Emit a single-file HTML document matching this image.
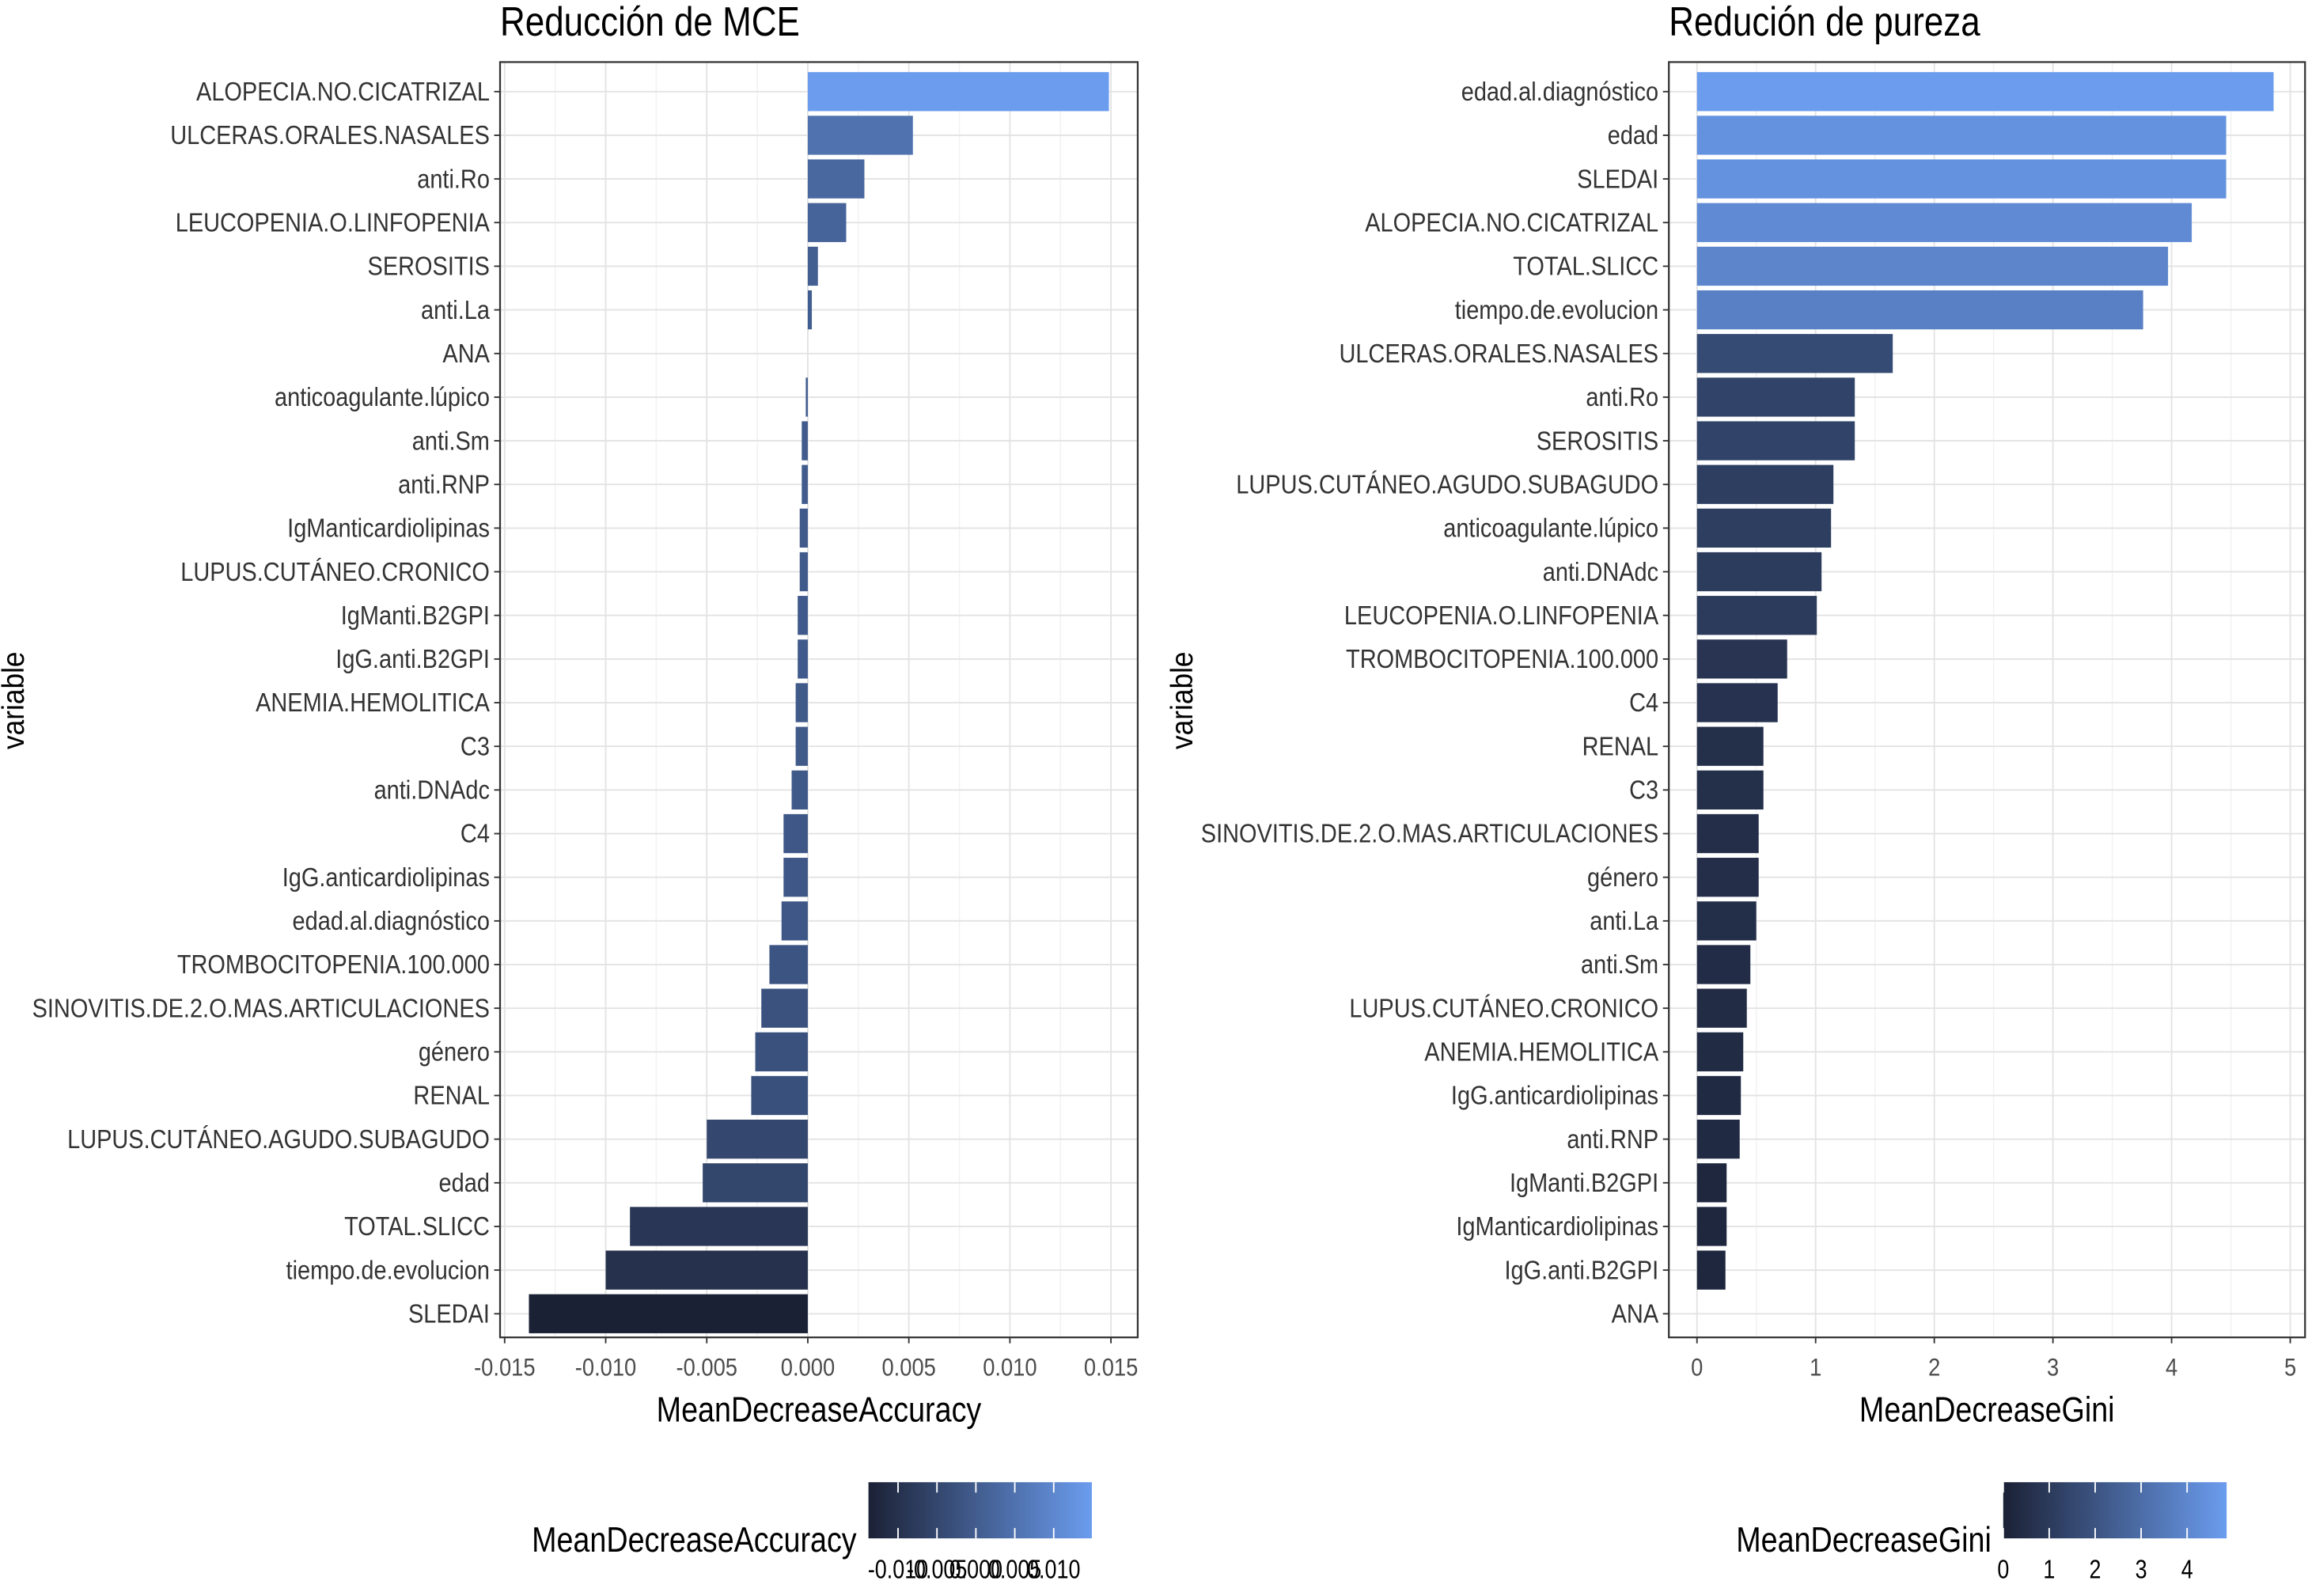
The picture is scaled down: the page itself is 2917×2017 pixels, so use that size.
<!DOCTYPE html>
<html><head><meta charset="utf-8"><style>
html,body{margin:0;padding:0;background:#fff}
svg{display:block}
text{font-family:"Liberation Sans",sans-serif}
</style></head><body>
<svg id="s" width="2917" height="2017" viewBox="0 0 1560 1080" preserveAspectRatio="none" xmlns="http://www.w3.org/2000/svg">
<defs>
<linearGradient id="gL" x1="0" x2="1" y1="0" y2="0"><stop offset="0" stop-color="#1b2135"/><stop offset="1" stop-color="#6b9cee"/></linearGradient>
<linearGradient id="gR" x1="0" x2="1" y1="0" y2="0"><stop offset="0" stop-color="#1b2135"/><stop offset="1" stop-color="#6b9cee"/></linearGradient>
</defs>
</svg>
<script>
const leftCats=["ALOPECIA.NO.CICATRIZAL","ULCERAS.ORALES.NASALES","anti.Ro","LEUCOPENIA.O.LINFOPENIA","SEROSITIS","anti.La","ANA","anticoagulante.lúpico","anti.Sm","anti.RNP","IgManticardiolipinas","LUPUS.CUTÁNEO.CRONICO","IgManti.B2GPI","IgG.anti.B2GPI","ANEMIA.HEMOLITICA","C3","anti.DNAdc","C4","IgG.anticardiolipinas","edad.al.diagnóstico","TROMBOCITOPENIA.100.000","SINOVITIS.DE.2.O.MAS.ARTICULACIONES","género","RENAL","LUPUS.CUTÁNEO.AGUDO.SUBAGUDO","edad","TOTAL.SLICC","tiempo.de.evolucion","SLEDAI"];
const leftVals=[0.0149,0.0052,0.0028,0.0019,0.0005,0.0002,0,-0.0001,-0.0003,-0.0003,-0.0004,-0.0004,-0.0005,-0.0005,-0.0006,-0.0006,-0.0008,-0.0012,-0.0012,-0.0013,-0.0019,-0.0023,-0.0026,-0.0028,-0.0050,-0.0052,-0.0088,-0.0100,-0.0138];
const leftTicks=[-0.015,-0.010,-0.005,0,0.005,0.010,0.015];
const leftTickLabels=["-0.015","-0.010","-0.005","0.000","0.005","0.010","0.015"];
const leftLegTicks=[-0.01,-0.005,0,0.005,0.01];
const leftLegLabels=["-0.010","-0.005","0.000","0.005","0.010"];
const rightCats=["edad.al.diagnóstico","edad","SLEDAI","ALOPECIA.NO.CICATRIZAL","TOTAL.SLICC","tiempo.de.evolucion","ULCERAS.ORALES.NASALES","anti.Ro","SEROSITIS","LUPUS.CUTÁNEO.AGUDO.SUBAGUDO","anticoagulante.lúpico","anti.DNAdc","LEUCOPENIA.O.LINFOPENIA","TROMBOCITOPENIA.100.000","C4","RENAL","C3","SINOVITIS.DE.2.O.MAS.ARTICULACIONES","género","anti.La","anti.Sm","LUPUS.CUTÁNEO.CRONICO","ANEMIA.HEMOLITICA","IgG.anticardiolipinas","anti.RNP","IgManti.B2GPI","IgManticardiolipinas","IgG.anti.B2GPI","ANA"];
const rightVals=[4.86,4.46,4.46,4.17,3.97,3.76,1.65,1.33,1.33,1.15,1.13,1.05,1.01,0.76,0.68,0.56,0.56,0.52,0.52,0.50,0.45,0.42,0.39,0.37,0.36,0.25,0.25,0.24,0];
const rightTicks=[0,1,2,3,4,5];
const rightTickLabels=["0","1","2","3","4","5"];
const rightLegTicks=[0,1,2,3,4];
const rightLegLabels=["0","1","2","3","4"];

const NS="http://www.w3.org/2000/svg";
const svg=document.getElementById('s');
function el(tag,attrs,parent){const e=document.createElementNS(NS,tag);for(const k in attrs)e.setAttribute(k,attrs[k]);(parent||svg).appendChild(e);return e;}
function txt(x,y,s,size,anchor,fill,rot,parent,sx){
  const t=el('text',{transform:`translate(${x},${y})`+(rot?` rotate(${rot})`:'')+` scale(${sx||0.82},1)`,'font-size':size,'text-anchor':anchor,fill:fill},parent);
  t.textContent=s;return t;
}
const c0=[27,33,53],c1=[107,156,238];
function col(v,mn,mx){const f=(v-mn)/(mx-mn);return 'rgb('+c0.map((c,i)=>Math.round(c+(c1[i]-c)*f)).join(',')+')';}

function panel(o){
  const g=el('g',{});
  
  
  const {x0,x1,y0,y1}=o.box;
  const xs=v=>o.zx+(v-o.t0)*o.ppu;
  const n=o.cats.length, step=(y1-y0-36)/(n-1), yc=i=>y0+20+i*step;
  el('rect',{x:x0,y:y0,width:x1-x0,height:y1-y0,fill:'#fff'},g);
  for(let i=0;i<o.ticks.length-1;i++){const m=(o.ticks[i]+o.ticks[i+1])/2;el('line',{x1:xs(m),x2:xs(m),y1:y0,y2:y1,stroke:'#f2f2f2','stroke-width':0.8},g);}
  o.ticks.forEach(t=>el('line',{x1:xs(t),x2:xs(t),y1:y0,y2:y1,stroke:'#e3e3e3','stroke-width':1},g));
  o.cats.forEach((c,i)=>el('line',{x1:x0,x2:x1,y1:yc(i),y2:yc(i),stroke:'#e3e3e3','stroke-width':1},g));
  const mn=Math.min(...o.vals),mx=Math.max(...o.vals);
  o.vals.forEach((v,i)=>{
    const a=xs(0),b=xs(v);
    const r=el('rect',{x:Math.min(a,b),y:yc(i)-13.2,width:Math.abs(b-a),height:26.4,fill:col(v,mn,mx)},g);
    
    
  });
  el('rect',{x:x0,y:y0,width:x1-x0,height:y1-y0,fill:'none',stroke:'#333','stroke-width':1.2},g);
  o.cats.forEach((c,i)=>{
    el('line',{x1:x0-4,x2:x0,y1:yc(i),y2:yc(i),stroke:'#333'},g);
    const t=txt(x0-7,yc(i)+6,c,18,'end','#333',0,g,0.86);
    
    
  });
  o.ticks.forEach((t,i)=>{
    el('line',{x1:xs(t),x2:xs(t),y1:y1,y2:y1+4,stroke:'#333'},g);
    const tt=txt(xs(t),y1+26,o.tickLabels[i],17,'middle','#4d4d4d',0,g,0.86);
    
    
  });
  const tl=txt(x0,24,o.title,28,'start','#000',0,g,0.84);
  
  
  const xt=txt((x0+x1)/2,962,o.xtitle,24,'middle','#000',0,g,0.84);
  
  
  const yt=txt(o.ytx,474,'variable',21,'middle','#000',-90,g,0.9);
  
  
  const L=o.leg;
  const lg=el('g',{},g);
  
  
  el('rect',{x:L.x0,y:1003,width:L.x1-L.x0,height:38,fill:`url(#${L.grad})`},lg);
  const ls=v=>L.x0+(v-mn)/(mx-mn)*(L.x1-L.x0);
  L.ticks.forEach((t,i)=>{
    el('line',{x1:ls(t),x2:ls(t),y1:1003,y2:1010,stroke:'#fff','stroke-width':1},lg);
    el('line',{x1:ls(t),x2:ls(t),y1:1034,y2:1041,stroke:'#fff','stroke-width':1},lg);
    txt(ls(t),1068,L.labels[i],18,'middle','#000',0,lg,0.8);
  });
  txt(L.x0-8,1050,o.xtitle,24,'end','#000',0,lg,0.84);
}
panel({name:'panel-mce',cats:leftCats,vals:leftVals,ticks:leftTicks,tickLabels:leftTickLabels,box:{x0:338,x1:769,y0:42,y1:905},zx:546,t0:0,ppu:68.3/0.005,title:'Reducción de MCE',xtitle:'MeanDecreaseAccuracy',ytx:16,leg:{x0:587,x1:738,grad:'gL',ticks:leftLegTicks,labels:leftLegLabels}});
panel({name:'panel-pureza',cats:rightCats,vals:rightVals,ticks:rightTicks,tickLabels:rightTickLabels,box:{x0:1128,x1:1558,y0:42,y1:905},zx:1147,t0:0,ppu:80.2,title:'Redución de pureza',xtitle:'MeanDecreaseGini',ytx:806,leg:{x0:1354,x1:1505,grad:'gR',ticks:rightLegTicks,labels:rightLegLabels}});
</script>
</body></html>
